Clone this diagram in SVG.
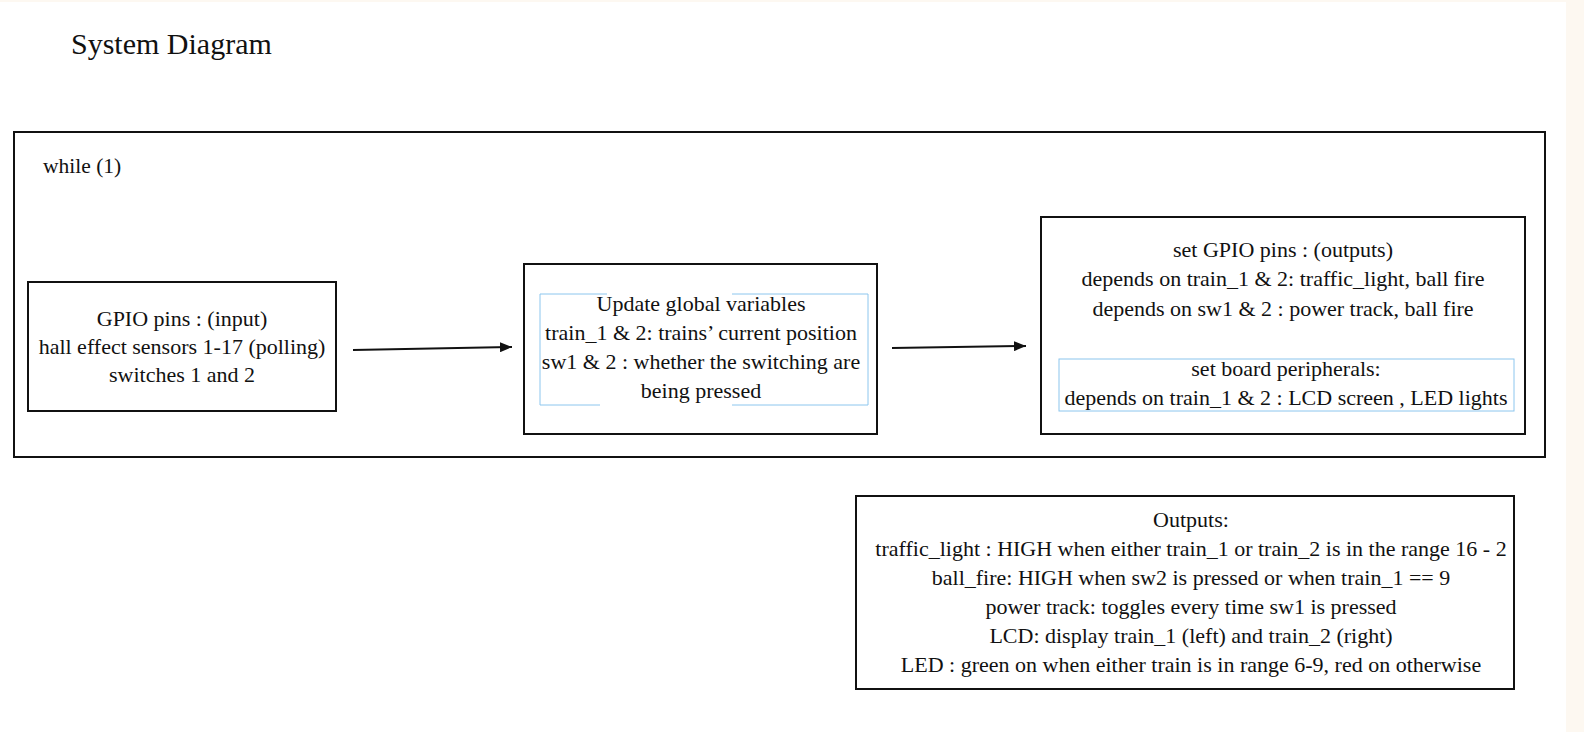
<svg xmlns="http://www.w3.org/2000/svg" width="1584" height="732" viewBox="0 0 1584 732">
<defs>
<style>
text{font-family:"Liberation Serif","Times New Roman",serif;fill:#111;font-size:22px}
.c{text-anchor:middle}
.box{fill:none;stroke:#111;stroke-width:2}
.blue{fill:none;stroke:#8cc6ee;stroke-width:1}
.conn{stroke:#111;stroke-width:2;fill:none;marker-end:url(#ah)}
</style>
<marker id="ah" viewBox="0 0 12 10" refX="12" refY="5" markerWidth="12" markerHeight="10" markerUnits="userSpaceOnUse" orient="auto">
<path d="M0,0 L12,5 L0,10 z" fill="#111"/>
</marker>
</defs>
<rect x="0" y="0" width="1584" height="732" fill="#ffffff"/>
<rect x="1566" y="0" width="18" height="732" fill="#fdf8f1"/>
<rect x="0" y="0" width="1584" height="2" fill="#fdf8f1"/>
<text x="71" y="54" style="font-size:30px">System Diagram</text>
<g id="loop">
<rect class="box" x="14" y="132" width="1531" height="325"/>
<text x="43" y="173" style="font-size:21.5px">while (1)</text>
</g>
<g id="gpio-input">
<rect class="box" x="28" y="282" width="308" height="129"/>
<text class="c" x="182" y="326">GPIO pins : (input)</text>
<text class="c" x="182" y="354">hall effect sensors 1-17 (polling)</text>
<text class="c" x="182" y="382">switches 1 and 2</text>
</g>
<g id="update">
<rect class="box" x="524" y="264" width="353" height="170"/>
<path class="blue" d="M607,294 H540 V405 H600 M732,405 H868 V294 H732"/>
<text class="c" x="701" y="311">Update global variables</text>
<text class="c" x="701" y="340">train_1 &amp; 2: trains’ current position</text>
<text class="c" x="701" y="369">sw1 &amp; 2 : whether the switching are</text>
<text class="c" x="701" y="398">being pressed</text>
</g>
<g id="set-outputs">
<rect class="box" x="1041" y="217" width="484" height="217"/>
<text class="c" x="1283" y="257">set GPIO pins : (outputs)</text>
<text class="c" x="1283" y="286">depends on train_1 &amp; 2: traffic_light, ball fire</text>
<text class="c" x="1283" y="316">depends on sw1 &amp; 2 : power track, ball fire</text>
<rect class="blue" x="1059" y="359" width="455" height="52"/>
<text class="c" x="1286" y="376">set board peripherals:</text>
<text class="c" x="1286" y="405">depends on train_1 &amp; 2 : LCD screen , LED lights</text>
</g>
<g id="outputs">
<rect class="box" x="856" y="496" width="658" height="193"/>
<text class="c" x="1191" y="527">Outputs:</text>
<text class="c" x="1191" y="556">traffic_light : HIGH when either train_1 or train_2 is in the range 16 - 2</text>
<text class="c" x="1191" y="585">ball_fire: HIGH when sw2 is pressed or when train_1 == 9</text>
<text class="c" x="1191" y="614">power track: toggles every time sw1 is pressed</text>
<text class="c" x="1191" y="643">LCD: display train_1 (left) and train_2 (right)</text>
<text class="c" x="1191" y="672">LED : green on when either train is in range 6-9, red on otherwise</text>
</g>
<g id="connectors">
<line class="conn" x1="353" y1="350" x2="512" y2="347"/>
<line class="conn" x1="892" y1="348" x2="1026" y2="346"/>
</g>
</svg>
